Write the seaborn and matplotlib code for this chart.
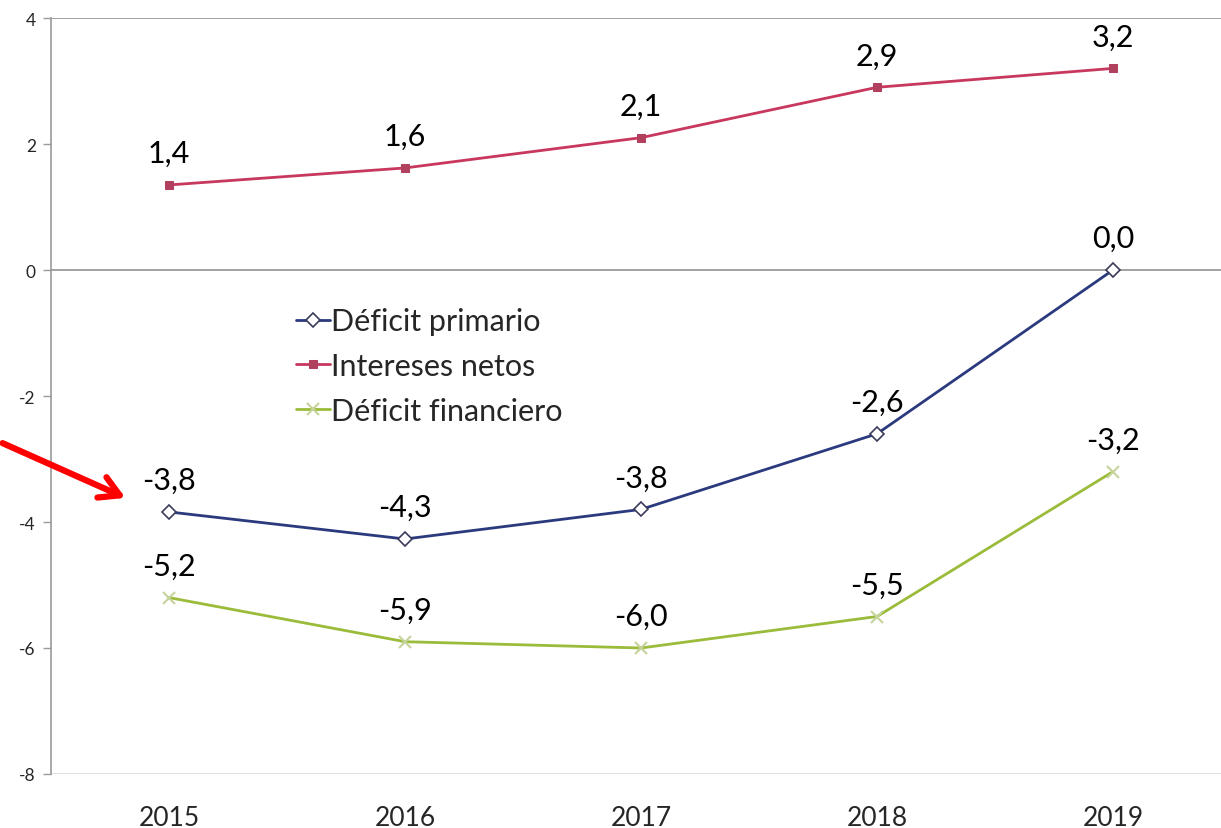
import pandas as pd
import numpy as np
import matplotlib.pyplot as plt
import seaborn as sns

# Data
years = ['2015', '2016', '2017', '2018', '2019']
deficit_primario = [-3.84, -4.27, -3.80, -2.60, 0.0]
intereses_netos = [1.35, 1.62, 2.10, 2.90, 3.20]
deficit_financiero = [-5.20, -5.90, -6.00, -5.50, -3.20]
y_ticks = [-8, -6, -4, -2, 0, 2, 4]

sns.set_style('white')
plt.rcParams['font.family'] = ['Lato', 'DejaVu Sans']

fig = plt.figure(figsize=(12.21, 8.29), dpi=100)
ax = fig.add_axes([51 / 1221, 54 / 829, 1180 / 1221, 756 / 829])

x = np.arange(len(years))
series = [
    ('Déficit primario', deficit_primario, '#2B3A7E', dict(marker='D', markersize=7, markerfacecolor='white', markeredgecolor='#3a3a5a', markeredgewidth=1.2)),
    ('Intereses netos', intereses_netos, '#C8375E', dict(marker='s', markersize=6, markerfacecolor='#B0405E', markeredgecolor='#B0405E')),
    ('Déficit financiero', deficit_financiero, '#9BBB3A', dict(marker='x', markersize=8, markeredgecolor='#C4D49A', markeredgewidth=1.5)),
]

for name, vals, color, mk in series:
    sns.lineplot(x=x, y=vals, ax=ax, color=color, linewidth=2, label=name, **mk)
    for xi, v in zip(x, vals):
        ax.annotate(f'{v:.1f}'.replace('.', ','), (xi, v), xytext=(0, 23),
                    textcoords='offset points', ha='center', va='center',
                    fontsize=22, color='black')

# Axis lines
ax.axhline(4, color='#9a9a9a', lw=1.3, zorder=0)
ax.axhline(0, color='#9a9a9a', lw=1.3, zorder=0)
ax.axhline(-8, color='#dddddd', lw=2, zorder=0)

ax.set_xlim(-0.5, 4.5)
ax.set_ylim(-8, 4)
ax.set_yticks(y_ticks)
ax.set_yticklabels([str(t) for t in y_ticks], fontsize=12.5)
ax.set_xticks(x)
ax.set_xticklabels(years, fontsize=19)
ax.tick_params(axis='y', length=6, width=1, color='#9a9a9a', pad=5, direction='out', left=True)
ax.tick_params(axis='x', length=0, pad=22)

for s in ['top', 'right', 'bottom']:
    ax.spines[s].set_visible(False)
ax.spines['left'].set_color('#9a9a9a')
ax.spines['left'].set_linewidth(1.2)

leg = ax.legend(loc='upper left', bbox_to_anchor=(230 / 1180, 482 / 756), frameon=False,
                fontsize=22, handlelength=1.1, handletextpad=0.05, labelspacing=0.55,
                borderpad=0)

# Red arrow
fig.add_artist(plt.matplotlib.patches.FancyArrowPatch(
    (0, 1 - 443 / 829), (128 / 1221, 1 - 500 / 829), transform=fig.transFigure,
    arrowstyle='->,head_length=14,head_width=8', color='#FF0000', lw=4.5,
    mutation_scale=1))

plt.savefig('out.png', dpi=100)
